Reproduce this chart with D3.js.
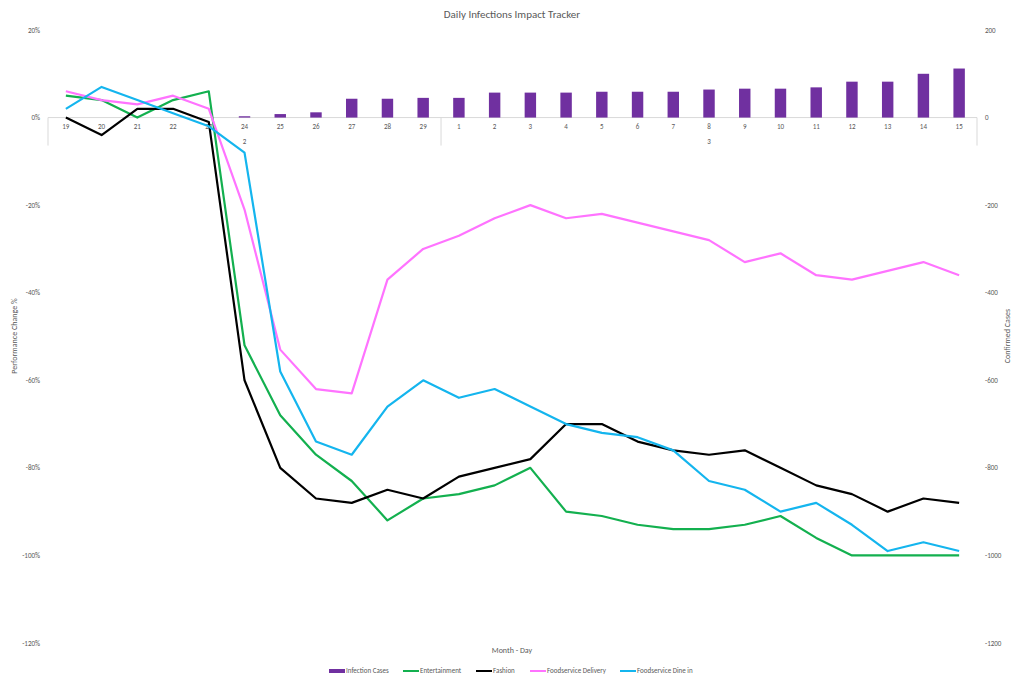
<!DOCTYPE html>
<html lang=en-us>
<head>
<meta charset=utf-8>
<title>Daily Infections Impact Tracker</title>
<style>body{margin:0;background:#fff}text{font-family:Calibri,Carlito,"Liberation Sans",Arial,sans-serif;fill:#595959}</style>
</head>
<body>
<svg id=chart width=1024 height=683></svg>
<script src=https://d3js.org/d3.v7.min.js></script>
<script>
var days = ["19","20","21","22","23","24","25","26","27","28","29","1","2","3","4","5","6","7","8","9","10","11","12","13","14","15"];
var months = [{name: "2", from: 0, to: 11}, {name: "3", from: 11, to: 26}];
var cases = [0,0,0,0,0,3,8,12,43,43,45,45,57,57,57,59,59,59,64,66,66,69,82,82,100,112];
var entertainment = [5,4,0,4,6,-52,-68,-77,-83,-92,-87,-86,-84,-80,-90,-91,-93,-94,-94,-93,-91,-96,-100,-100,-100,-100];
var fashion = [0,-4,2,2,-1,-60,-80,-87,-88,-85,-87,-82,-80,-78,-70,-70,-74,-76,-77,-76,-80,-84,-86,-90,-87,-88];
var delivery = [6,4,3,5,2,-21,-53,-62,-63,-37,-30,-27,-23,-20,-23,-22,-24,-26,-28,-33,-31,-36,-37,-35,-33,-36];
var dineIn = [2,7,4,1,-2,-8,-58,-74,-77,-66,-60,-64,-62,-66,-70,-72,-73,-76,-83,-85,-90,-88,-93,-99,-97,-99];
var leftTicks = [20,0,-20,-40,-60,-80,-100,-120];
var rightTicks = [200,0,-200,-400,-600,-800,-1000,-1200];
var series = [
  {name: "Entertainment", values: entertainment, color: "#13b04f"},
  {name: "Fashion", values: fashion, color: "#000000"},
  {name: "Foodservice Delivery", values: delivery, color: "#ff73ff"},
  {name: "Foodservice Dine in", values: dineIn, color: "#14b5ee"}
];

var svg = d3.select("#chart");
var x = d3.scaleBand().domain(d3.range(days.length)).range([48, 977]);
var y = d3.scaleLinear().domain([-120, 20]).range([643, 30]);
var y2 = d3.scaleLinear().domain([-1200, 200]).range([643, 30]);

svg.append("text").attr("x", 512).attr("y", 18).attr("text-anchor", "middle").style("font-size", "11px").text("Daily Infections Impact Tracker");

// left / right tick labels
svg.selectAll(".lt").data(leftTicks).join("text").attr("x", 40).attr("y", d => y(d) + 2.5)
  .attr("text-anchor", "end").style("font-size", "7px").text(d => d + "%");
svg.selectAll(".rt").data(rightTicks).join("text").attr("x", 985).attr("y", d => y2(d) + 2.5)
  .style("font-size", "7px").text(d => d);

// category axis
svg.append("line").attr("x1", 48).attr("x2", 977).attr("y1", y(0)).attr("y2", y(0)).attr("stroke", "#d9d9d9");
[0, 11, 26].forEach(i => {
  var xx = i < days.length ? x(i) : x.range()[1];
  svg.append("line").attr("x1", xx).attr("x2", xx).attr("y1", y(0)).attr("y2", y(0) + 28).attr("stroke", "#d9d9d9");
});
svg.selectAll(".day").data(days).join("text").attr("x", (d, i) => x(i) + x.bandwidth() / 2).attr("y", y(0) + 11)
  .attr("text-anchor", "middle").style("font-size", "7px").text(d => d);
svg.selectAll(".mon").data(months).join("text").attr("x", d => (x(d.from) + x(d.to - 1) + x.bandwidth()) / 2).attr("y", y(0) + 26)
  .attr("text-anchor", "middle").style("font-size", "7px").text(d => d.name);

// bars
var bw = x.bandwidth() * 0.32;
svg.selectAll(".bar").data(cases).join("rect")
  .attr("x", (d, i) => x(i) + (x.bandwidth() - bw) / 2).attr("width", bw)
  .attr("y", d => y2(d)).attr("height", d => y2(0) - y2(d)).attr("fill", "#7030a0");

// lines
var line = d3.line().x((d, i) => x(i) + x.bandwidth() / 2).y(d => y(d));
series.forEach(s => svg.append("path").attr("d", line(s.values)).attr("fill", "none")
  .attr("stroke", s.color).attr("stroke-width", 2.2).attr("stroke-linejoin", "round"));

// axis titles
svg.append("text").attr("transform", "translate(17,336) rotate(-90)").attr("text-anchor", "middle").style("font-size", "8px").text("Performance Change %");
svg.append("text").attr("transform", "translate(1010,336) rotate(-90)").attr("text-anchor", "middle").style("font-size", "8px").text("Confirmed Cases");
svg.append("text").attr("x", 512).attr("y", 653).attr("text-anchor", "middle").style("font-size", "8px").text("Month - Day");

// legend
var legend = [{name: "Infection Cases", color: "#7030a0", bar: true}].concat(series);
var lx = [329, 403, 476, 530, 620];
legend.forEach((d, i) => {
  svg.append("rect").attr("x", lx[i]).attr("y", d.bar ? 669 : 670).attr("width", 16).attr("height", d.bar ? 4 : 2).attr("fill", d.color);
  svg.append("text").attr("x", lx[i] + 17).attr("y", 673).style("font-size", "7px").text(d.name);
});
</script>
</body>
</html>
